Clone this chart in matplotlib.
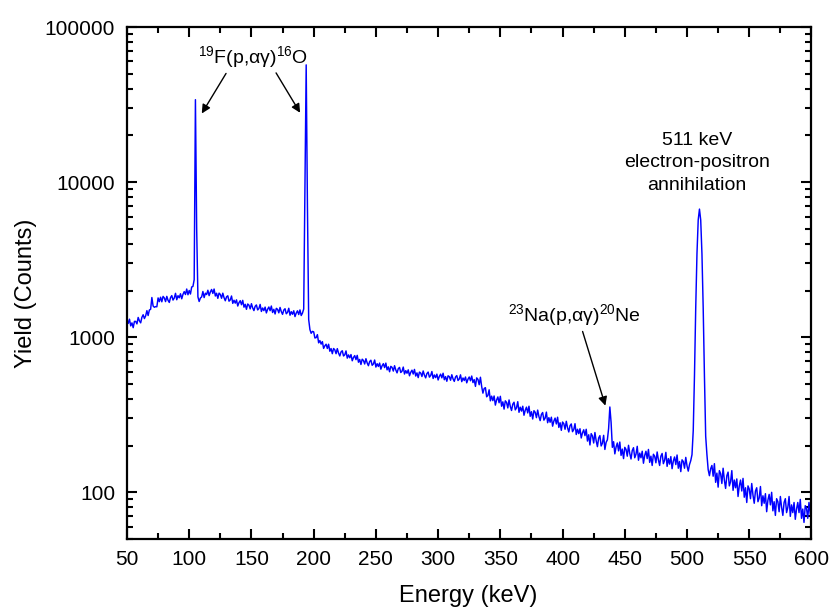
import numpy as np
import matplotlib
matplotlib.use("Agg")
import matplotlib.pyplot as plt
from matplotlib.ticker import MultipleLocator, LogLocator, FixedFormatter, NullFormatter

plt.rcParams['font.family'] = ['Liberation Sans', 'DejaVu Sans']
plt.rcParams['mathtext.fontset'] = 'custom'
plt.rcParams['mathtext.rm'] = 'Liberation Sans'
plt.rcParams['mathtext.it'] = 'Liberation Sans'

# gamma spectrum, 1 keV channels from 50 to 600 keV
energy_kev = np.arange(50, 601)
counts = [
    1305, 1228, 1307, 1183, 1237, 1152, 1265, 1265, 1219, 1341,
    1275, 1238, 1344, 1396, 1319, 1372, 1484, 1380, 1498, 1513,
    1803, 1589, 1560, 1575, 1571, 1792, 1696, 1811, 1692, 1833,
    1791, 1697, 1834, 1729, 1676, 1802, 1855, 1736, 1789, 1919,
    1744, 1852, 1796, 1906, 1769, 1890, 1968, 1885, 2045, 1878,
    2002, 1899, 2109, 2125, 2350, 34000, 5000, 1820, 1700, 1790,
    1819, 1972, 1801, 1923, 1884, 2009, 1854, 1960, 2031, 1915,
    2045, 1844, 1921, 1781, 1925, 1887, 1783, 1923, 1798, 1718,
    1822, 1850, 1707, 1740, 1844, 1653, 1731, 1659, 1741, 1589,
    1670, 1720, 1620, 1729, 1562, 1630, 1513, 1638, 1609, 1523,
    1645, 1546, 1485, 1583, 1615, 1499, 1531, 1627, 1466, 1543,
    1484, 1564, 1434, 1514, 1566, 1483, 1589, 1443, 1513, 1412,
    1536, 1513, 1436, 1556, 1462, 1404, 1496, 1527, 1416, 1446,
    1537, 1386, 1461, 1406, 1481, 1358, 1432, 1480, 1400, 1500,
    1380, 1430, 1520, 9000, 57000, 7000, 1300, 1120, 1060, 1090,
    1084, 989, 994, 1039, 920, 951, 903, 937, 847, 880,
    901, 846, 901, 812, 845, 783, 846, 829, 783, 844,
    790, 757, 804, 818, 757, 770, 816, 733, 769, 737,
    773, 705, 740, 761, 717, 764, 690, 719, 667, 722,
    708, 672, 727, 683, 655, 697, 711, 659, 672, 713,
    642, 675, 648, 681, 622, 655, 675, 637, 681, 616,
    644, 599, 649, 639, 605, 655, 615, 589, 627, 639,
    592, 604, 642, 579, 609, 586, 616, 564, 594, 613,
    579, 620, 562, 589, 549, 596, 588, 558, 606, 569,
    547, 583, 596, 553, 566, 601, 542, 571, 549, 578,
    530, 559, 578, 547, 586, 532, 557, 520, 564, 557,
    528, 573, 539, 519, 554, 566, 526, 538, 572, 517,
    546, 526, 554, 508, 536, 554, 524, 562, 510, 533,
    482, 547, 535, 494, 552, 481, 436, 467, 473, 413,
    421, 458, 389, 417, 390, 418, 365, 394, 412, 378,
    416, 359, 383, 344, 389, 380, 350, 394, 358, 337,
    370, 381, 340, 351, 384, 328, 354, 334, 359, 314,
    338, 354, 325, 359, 309, 331, 297, 336, 328, 303,
    339, 308, 290, 318, 327, 292, 301, 329, 281, 303,
    283, 305, 267, 288, 301, 276, 305, 262, 281, 251,
    284, 277, 255, 287, 261, 245, 269, 276, 246, 254,
    277, 236, 255, 239, 257, 224, 242, 253, 232, 255,
    214, 235, 202, 239, 231, 208, 243, 215, 197, 224,
    232, 199, 207, 233, 189, 210, 218, 258, 355, 282,
    195, 212, 177, 196, 208, 185, 211, 173, 190, 165,
    195, 189, 171, 201, 178, 164, 186, 194, 167, 176,
    198, 161, 179, 167, 184, 154, 173, 184, 165, 189,
    156, 171, 149, 176, 171, 155, 182, 162, 149, 171,
    178, 153, 161, 181, 147, 165, 152, 170, 142, 159,
    169, 151, 174, 143, 158, 136, 162, 158, 143, 168,
    148, 137, 151, 160, 175, 250, 570, 1550, 3460, 5710,
    6700, 5700, 3450, 1540, 560, 230, 175, 140, 128, 142,
    149, 127, 153, 116, 133, 108, 138, 132, 114, 143,
    120, 106, 128, 135, 110, 117, 138, 103, 120, 107,
    122, 94, 110, 120, 102, 123, 93, 107, 86, 110,
    105, 91, 114, 96, 85, 102, 107, 87, 92, 109,
    82, 95, 85, 98, 75, 89, 97, 83, 100, 76,
    87, 71, 91, 87, 75, 94, 80, 71, 86, 91,
    74, 80, 94, 70, 83, 74, 86, 67, 78, 86,
    74, 90, 68, 78, 64, 82, 79, 68, 86, 73, 66,
]

x_ticks = [50, 100, 150, 200, 250, 300, 350, 400, 450, 500, 550, 600]
y_ticks = [100, 1000, 10000, 100000]
y_tick_labels = ["100", "1000", "10000", "100000"]

fig = plt.figure(figsize=(8.31, 6.07), dpi=100)
ax = fig.add_axes([0.1528, 0.112, 0.8237, 0.8435])

ax.plot(energy_kev, counts, color='#0000ff', lw=1.05)

ax.set_yscale('log')
ax.set_xlim(50, 600)
ax.set_ylim(50, 100000)

ax.set_xticks(x_ticks)
ax.xaxis.set_minor_locator(MultipleLocator(25))
ax.set_yticks(y_ticks)
ax.yaxis.set_major_formatter(FixedFormatter(y_tick_labels))
ax.yaxis.set_minor_locator(LogLocator(base=10, subs=np.arange(2, 10)))
ax.yaxis.set_minor_formatter(NullFormatter())

ax.tick_params(which='both', direction='in', top=True, right=True, width=1.5,
               labelsize=15)
ax.tick_params(which='major', length=7.5)
ax.tick_params(which='minor', length=4)
ax.tick_params(axis='x', which='major', pad=8)
ax.tick_params(axis='y', which='major', pad=8.5)
for side in ax.spines.values():
    side.set_linewidth(1.6)

ax.set_xlabel('Energy (keV)', fontsize=17)
ax.set_ylabel('Yield (Counts)', fontsize=17)
ax.xaxis.set_label_coords(0.499, -0.089)
ax.yaxis.set_label_coords(-0.131, 0.48)

# peak annotations
arrow = dict(arrowstyle='-|>', color='black', lw=1.0, mutation_scale=13,
             shrinkA=0, shrinkB=0)
ax.text(151.3, 64000, '$^{19}$F(p,αγ)$^{16}$O', fontsize=14,
        ha='center', va='center')
ax.annotate('', xy=(110.1, 27700), xytext=(129.6, 50200), arrowprops=arrow)
ax.annotate('', xy=(189.1, 28000), xytext=(169.8, 50600), arrowprops=arrow)

ax.text(409.8, 1390, '$^{23}$Na(p,αγ)$^{20}$Ne', fontsize=14,
        ha='center', va='center')
ax.annotate('', xy=(434.4, 362), xytext=(416.1, 1089), arrowprops=arrow)

ax.text(507.8, 13300, '511 keV\nelectron-positron\nannihilation', fontsize=14,
        ha='center', va='center', linespacing=1.45)

fig.savefig('out.png', dpi=100)
